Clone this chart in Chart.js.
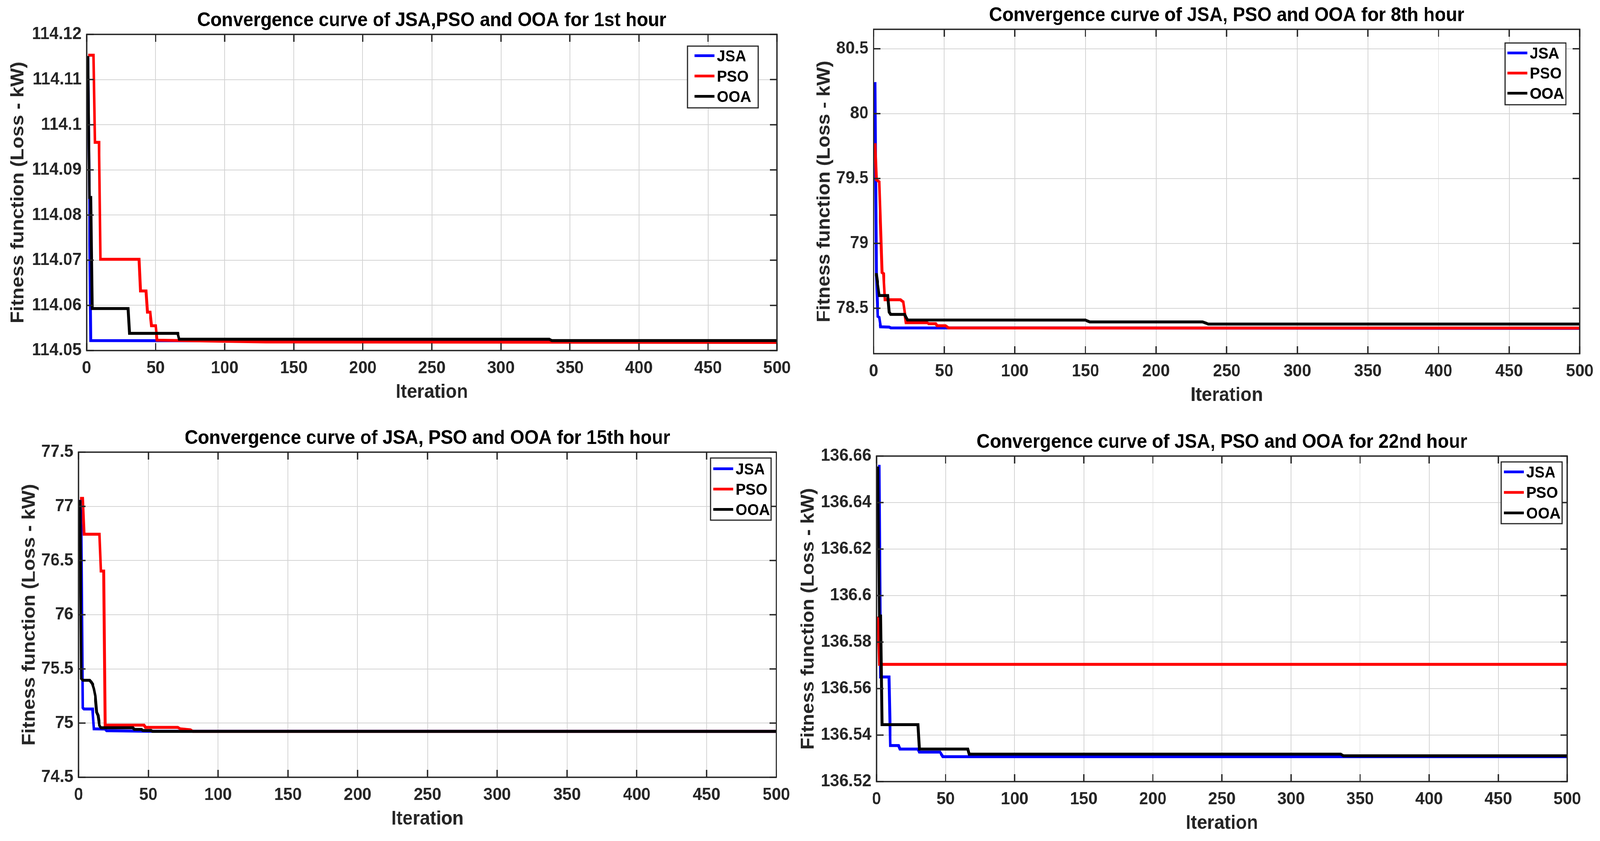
<!DOCTYPE html>
<html>
<head>
<meta charset="utf-8">
<title>Convergence curves JSA, PSO, OOA</title>
<script src="https://cdn.jsdelivr.net/npm/chart.js@4.4.0/dist/chart.umd.min.js"></script>
<style>
  html, body { margin: 0; padding: 0; background: #fff; overflow: hidden; }
  #page { position: relative; width: 4359px; height: 2152px; overflow: hidden; background: #fff; transform-origin: 0 0; }
  .panel { position: absolute; }
</style>
</head>
<body>
<div id="page"></div>
<script>
// ---- data: [iteration, fitness] break points ----
const iterTicks = [0, 50, 100, 150, 200, 250, 300, 350, 400, 450, 500];
const seriesNames = ['JSA', 'PSO', 'OOA'];
const seriesColors = ['#0000ff', '#ff0000', '#000000'];

// 1st hour
const h1Ticks = [114.05, 114.06, 114.07, 114.08, 114.09, 114.1, 114.11, 114.12];
const h1Jsa = [[1, 114.1152], [2, 114.0838], [3, 114.0522], [500, 114.0520]];
const h1Pso = [[1, 114.1154], [5, 114.1154], [6, 114.0961], [9, 114.0961], [10, 114.0702], [38, 114.0702],
  [39, 114.0632], [43, 114.0632], [44, 114.0585], [46, 114.0585], [47, 114.0555], [50, 114.0555],
  [51, 114.0523], [90, 114.0521], [130, 114.0519], [500, 114.0518]];
const h1Ooa = [[1, 114.1152], [2, 114.0839], [3, 114.0839], [4, 114.0593], [30, 114.0593], [31, 114.0538],
  [66, 114.0538], [67, 114.0525], [335, 114.0525], [337, 114.0522], [500, 114.0522]];

// 8th hour
const h8Ticks = [78.5, 79, 79.5, 80, 80.5];
const h8Jsa = [[1, 80.243], [2, 78.75], [3, 78.437], [4, 78.43], [5, 78.357], [11, 78.355], [12, 78.349], [500, 78.345]];
const h8Pso = [[1, 79.772], [2, 79.49], [4, 79.475], [6, 78.775], [7, 78.767], [8, 78.566], [19, 78.566],
  [20, 78.556], [21, 78.55], [23, 78.389], [38, 78.389], [39, 78.381], [44, 78.381], [45, 78.365],
  [51, 78.365], [53, 78.349], [100, 78.348], [500, 78.347]];
const h8Ooa = [[1, 78.76], [2, 78.76], [4, 78.598], [10, 78.598], [11, 78.47], [12, 78.453], [22, 78.453],
  [23, 78.43], [24, 78.41], [150, 78.409], [153, 78.395], [233, 78.395], [237, 78.378], [500, 78.378]];

// 15th hour
const h15Ticks = [74.5, 75, 75.5, 76, 76.5, 77, 77.5];
const h15Jsa = [[1, 77.06], [2, 76.8], [3, 75.142], [4, 75.13], [10, 75.13], [11, 74.947], [19, 74.945],
  [20, 74.93], [50, 74.925], [500, 74.924]];
const h15Pso = [[1, 77.074], [3, 77.074], [4, 76.743], [15, 76.743], [16, 76.403], [18, 76.403], [19, 74.981],
  [47, 74.981], [48, 74.961], [71, 74.961], [73, 74.947], [80, 74.938], [82, 74.924], [500, 74.924]];
const h15Ooa = [[1, 77.058], [2, 75.41], [3, 75.395], [8, 75.395], [9, 75.38], [10, 75.36], [11, 75.317],
  [12, 75.25], [13, 75.10], [14, 75.07], [15, 74.977], [16, 74.957], [39, 74.957], [40, 74.942],
  [45, 74.942], [46, 74.932], [52, 74.932], [53, 74.924], [500, 74.924]];

// 22nd hour
const h22Ticks = [136.52, 136.54, 136.56, 136.58, 136.6, 136.62, 136.64, 136.66];
const h22Jsa = [[1, 136.6556], [2, 136.6556], [3, 136.565], [9, 136.565], [10, 136.5355], [16, 136.5355],
  [17, 136.534], [30, 136.534], [31, 136.5327], [46, 136.5327], [48, 136.5307], [500, 136.5307]];
const h22Pso = [[1, 136.591], [2, 136.5704], [500, 136.5704]];
const h22Ooa = [[1, 136.6555], [2, 136.5912], [3, 136.5912], [4, 136.5445], [30, 136.5445], [31, 136.534],
  [66, 136.534], [67, 136.5318], [336, 136.5318], [338, 136.5311], [500, 136.5311]];

// ---- layout of the four panels (plot-area box in page pixels) ----
const fontFamily = "'Liberation Sans', Arial, Helvetica, sans-serif";
const panels = [
  { title: 'Convergence curve of JSA,PSO and OOA for 1st hour', series: [h1Jsa, h1Pso, h1Ooa],
    yTicks: h1Ticks, yMin: 114.05, yMax: 114.12, area: { l: 236, t: 88, r: 2117, b: 897 }, yTitleOff: 186,
    legend: { right: 51, top: 30, w: 193, h: 158, padX: 19, first: 27.5, step: 52 } },
  { title: 'Convergence curve of JSA, PSO and OOA for 8th hour', series: [h8Jsa, h8Pso, h8Ooa],
    yTicks: h8Ticks, yMin: 78.15, yMax: 80.65, area: { l: 2380, t: 75, r: 4304, b: 905 }, yTitleOff: 134,
    legend: { right: 38, top: 35, w: 166, h: 158, padX: 7, first: 28.5, step: 51.5 } },
  { title: 'Convergence curve of JSA, PSO and OOA for 15th hour', series: [h15Jsa, h15Pso, h15Ooa],
    yTicks: h15Ticks, yMin: 74.5, yMax: 77.5, area: { l: 214, t: 1157, r: 2115, b: 1989 }, yTitleOff: 133,
    legend: { right: 14, top: 15, w: 165, h: 159, padX: 7, first: 30.5, step: 52 } },
  { title: 'Convergence curve of JSA, PSO and OOA for 22nd hour', series: [h22Jsa, h22Pso, h22Ooa],
    yTicks: h22Ticks, yMin: 136.52, yMax: 136.66, area: { l: 2388, t: 1167, r: 4270, b: 2000 }, yTitleOff: 185,
    legend: { right: 14, top: 15, w: 166, h: 158, padX: 7, first: 28.5, step: 52.5 } }
];

// fit the 4359 x 2152 figure onto the viewport that is really there
const fitX = window.innerWidth / 4359;
const fitY = window.innerHeight / 2152;
if (Math.abs(fitX - 1) > 0.003 || Math.abs(fitY - 1) > 0.003) {
  document.getElementById('page').style.transform = 'scale(' + fitX + ',' + fitY + ')';
}
const pixelRatio = Math.max(1, (window.devicePixelRatio || 1) * Math.max(fitX, fitY));

// box around the axes with inward ticks on all four sides (MATLAB style)
const frameBox = {
  id: 'frameBox',
  afterDraw(chart) {
    const { ctx, chartArea: a, scales } = chart;
    const tl = 19;
    ctx.save();
    ctx.strokeStyle = '#262626';
    ctx.lineWidth = 3.5;
    ctx.beginPath();
    scales.x.ticks.forEach(t => {
      const px = scales.x.getPixelForValue(t.value);
      ctx.moveTo(px, a.bottom); ctx.lineTo(px, a.bottom - tl);
      ctx.moveTo(px, a.top); ctx.lineTo(px, a.top + tl);
    });
    scales.y.ticks.forEach(t => {
      const py = scales.y.getPixelForValue(t.value);
      ctx.moveTo(a.left, py); ctx.lineTo(a.left + tl, py);
      ctx.moveTo(a.right, py); ctx.lineTo(a.right - tl, py);
    });
    ctx.stroke();
    ctx.strokeRect(a.left, a.top, a.right - a.left, a.bottom - a.top);
    ctx.restore();
  }
};

// legend inside the axes, top right, with a border
const boxLegend = {
  id: 'boxLegend',
  afterDraw(chart, args, opts) {
    const { ctx, chartArea: a } = chart;
    const x0 = a.right - opts.right - opts.w;
    const y0 = a.top + opts.top;
    ctx.save();
    ctx.fillStyle = '#fff';
    ctx.fillRect(x0, y0, opts.w, opts.h);
    ctx.strokeStyle = '#262626';
    ctx.lineWidth = 3;
    ctx.strokeRect(x0, y0, opts.w, opts.h);
    ctx.font = 'bold 41px ' + fontFamily;
    ctx.textBaseline = 'middle';
    ctx.textAlign = 'left';
    chart.data.datasets.forEach((ds, i) => {
      const cy = y0 + opts.first + i * opts.step;
      ctx.strokeStyle = ds.borderColor;
      ctx.lineWidth = 7;
      ctx.beginPath();
      ctx.moveTo(x0 + opts.padX, cy - 3);
      ctx.lineTo(x0 + opts.padX + 54, cy - 3);
      ctx.stroke();
      ctx.fillStyle = '#000';
      ctx.fillText(ds.label, x0 + opts.padX + 61, cy);
    });
    ctx.restore();
  }
};

function makePanel(p) {
  const yW = 230, padR = 60, topH = 85, xH = 150;
  const w = (p.area.r - p.area.l) + yW + padR;
  const h = (p.area.b - p.area.t) + topH + xH;

  const div = document.createElement('div');
  div.className = 'panel';
  div.style.left = (p.area.l - yW) + 'px';
  div.style.top = (p.area.t - topH) + 'px';
  div.style.width = w + 'px';
  div.style.height = h + 'px';
  const cv = document.createElement('canvas');
  cv.width = w; cv.height = h;
  cv.style.width = w + 'px'; cv.style.height = h + 'px';
  div.appendChild(cv);
  document.getElementById('page').appendChild(div);

  const tickFont = { size: 45, weight: 'bold', family: fontFamily };
  const labelFont = { size: 50, weight: 'bold', family: fontFamily };

  new Chart(cv, {
    type: 'line',
    data: {
      datasets: p.series.map((pts, i) => ({
        label: seriesNames[i],
        data: pts.map(d => ({ x: d[0], y: d[1] })),
        borderColor: seriesColors[i],
        backgroundColor: seriesColors[i],
        borderWidth: 7.5,
        pointRadius: 0,
        tension: 0,
        fill: false,
        borderJoinStyle: 'miter',
        order: 3 - i
      }))
    },
    options: {
      responsive: false,
      animation: false,
      devicePixelRatio: pixelRatio,
      layout: { padding: { left: 0, top: 0, right: padR, bottom: 0 } },
      scales: {
        x: {
          type: 'linear', min: 0, max: 500,
          afterBuildTicks: s => { s.ticks = iterTicks.map(v => ({ value: v })); },
          afterFit: s => { s.height = xH; },
          grid: { color: '#d4d4d4', lineWidth: 2, drawTicks: false },
          border: { display: false },
          ticks: { font: tickFont, color: '#262626', padding: 19, maxRotation: 0, autoSkip: false,
                   callback: v => String(v) },
          title: { display: true, text: 'Iteration', font: labelFont, color: '#262626',
                   padding: { top: 0, bottom: 13 } }
        },
        y: {
          type: 'linear', min: p.yMin, max: p.yMax,
          afterBuildTicks: s => { s.ticks = p.yTicks.map(v => ({ value: v })); },
          afterFit: s => { s.width = yW; },
          grid: { color: '#d4d4d4', lineWidth: 2, drawTicks: false },
          border: { display: false },
          ticks: { font: tickFont, color: '#262626', padding: 14, autoSkip: false,
                   callback: v => String(+v.toFixed(4)) },
          title: { display: true, text: 'Fitness function (Loss - kW)', font: labelFont, color: '#262626',
                   padding: { top: yW - p.yTitleOff - 30, bottom: 0 } }
        }
      },
      plugins: {
        title: { display: true, text: p.title, fullSize: false, color: '#000',
                 font: { size: 50, weight: 'bold', family: fontFamily }, padding: { top: 20, bottom: 5 } },
        legend: { display: false },
        tooltip: { enabled: false },
        boxLegend: p.legend
      }
    },
    plugins: [frameBox, boxLegend]
  });
}

panels.forEach(makePanel);
</script>
</body>
</html>
